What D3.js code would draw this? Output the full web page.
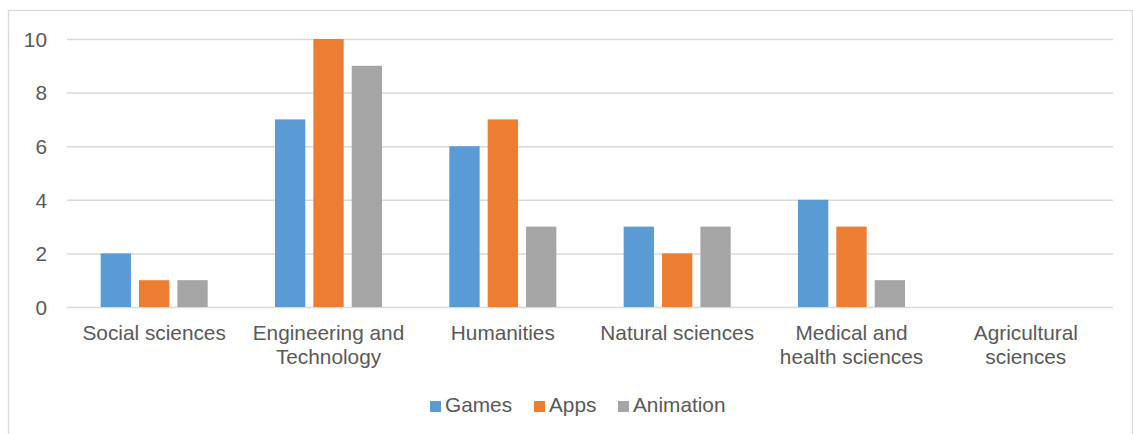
<!DOCTYPE html>
<html>
<head>
<meta charset="utf-8">
<script src="https://cdn.jsdelivr.net/npm/d3@7"></script>
<style>
  html, body { margin: 0; padding: 0; background: #fff; }
  svg { display: block; font-family: "Liberation Sans", Arial, sans-serif; }
</style>
</head>
<body>
<svg id="chart" width="1133" height="434"></svg>
<script>
// Categories (label lines as they wrap under the axis)
const categories = [
  "Social sciences",
  "Engineering and Technology",
  "Humanities",
  "Natural sciences",
  "Medical and health sciences",
  "Agricultural sciences"
];
const categoryLines = [
  ["Social sciences"],
  ["Engineering and", "Technology"],
  ["Humanities"],
  ["Natural sciences"],
  ["Medical and", "health sciences"],
  ["Agricultural", "sciences"]
];
const seriesNames = ["Games", "Apps", "Animation"];
const games     = [2, 7, 6, 3, 4, 0];
const apps      = [1, 10, 7, 2, 3, 0];
const animation = [1, 9, 3, 3, 1, 0];
const yTicks = [0, 2, 4, 6, 8, 10];

const colors = { Games: "#5B9BD5", Apps: "#ED7D31", Animation: "#A5A5A5" };
const seriesValues = { Games: games, Apps: apps, Animation: animation };

const svg = d3.select("#chart");
const plot = { left: 67, right: 1113, top: 39, bottom: 307 };
const fontSize = "20.8px";

// chart frame
svg.append("rect")
  .attr("x", 8.5).attr("y", 10.5)
  .attr("width", 1124).attr("height", 460)
  .attr("fill", "none").attr("stroke", "#d9d9d9").attr("stroke-width", 1.3);

const y = d3.scaleLinear().domain([0, 10]).range([plot.bottom, plot.top]);

const x0 = d3.scaleBand()
  .domain(categories)
  .range([plot.left, plot.right])
  .paddingInner(0.386)
  .paddingOuter(0.193);

const x1 = d3.scaleBand()
  .domain(seriesNames)
  .range([0, x0.bandwidth()])
  .paddingInner(0.21)
  .paddingOuter(0);

// gridlines and value axis
const yAxis = d3.axisLeft(y)
  .tickValues(yTicks)
  .tickSize(-(plot.right - plot.left))
  .tickPadding(20)
  .tickFormat(d3.format("d"));

const gy = svg.append("g")
  .attr("transform", `translate(${plot.left},0)`)
  .call(yAxis);
gy.select(".domain").remove();
gy.selectAll(".tick line")
  .attr("stroke", "#d9d9d9").attr("stroke-width", 1.5);
gy.selectAll(".tick text")
  .attr("fill", "#595959")
  .style("font-size", fontSize)
  .attr("dy", "0.35em");

// bars
const rows = categories.map((c, i) => ({
  category: c,
  values: seriesNames.map(s => ({ series: s, value: seriesValues[s][i] }))
}));

const groups = svg.append("g").selectAll("g")
  .data(rows)
  .join("g")
  .attr("transform", d => `translate(${x0(d.category)},0)`);

groups.selectAll("rect")
  .data(d => d.values)
  .join("rect")
  .attr("x", d => x1(d.series))
  .attr("y", d => y(d.value))
  .attr("width", x1.bandwidth())
  .attr("height", d => y(0) - y(d.value))
  .attr("fill", d => colors[d.series]);

// category labels
const labels = svg.append("g").selectAll("text")
  .data(categories)
  .join("text")
  .attr("x", d => x0(d) + x0.bandwidth() / 2)
  .attr("y", 340)
  .attr("text-anchor", "middle")
  .attr("fill", "#595959")
  .style("font-size", fontSize);

labels.each(function(d, i) {
  const t = d3.select(this);
  categoryLines[i].forEach((line, j) => {
    t.append("tspan")
      .attr("x", x0(d) + x0.bandwidth() / 2)
      .attr("dy", j === 0 ? 0 : 24)
      .text(line);
  });
});

// legend
const legendX = [430, 534, 618];
const legend = svg.append("g").selectAll("g")
  .data(seriesNames)
  .join("g")
  .attr("transform", (d, i) => `translate(${legendX[i]},0)`);

legend.append("rect")
  .attr("x", 0).attr("y", 401)
  .attr("width", 11).attr("height", 11)
  .attr("fill", d => colors[d]);

legend.append("text")
  .attr("x", 15).attr("y", 412)
  .attr("fill", "#595959")
  .style("font-size", fontSize)
  .text(d => d);
</script>
</body>
</html>
